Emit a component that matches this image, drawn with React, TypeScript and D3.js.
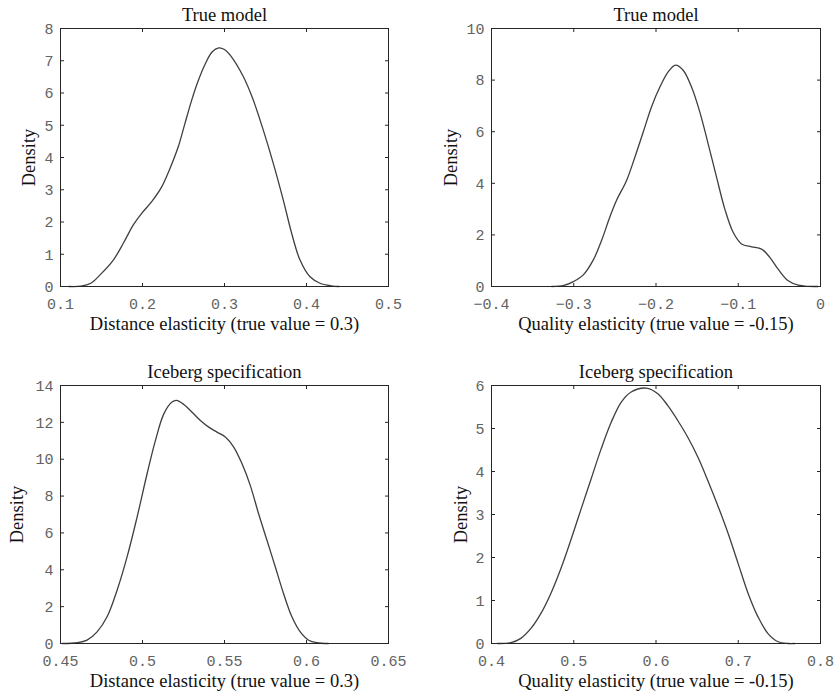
import React from "react";
import * as d3 from "d3";

// ---- data ----
const x1 = [0.11, 0.125, 0.137, 0.1482, 0.1644, 0.1766, 0.1888, 0.199, 0.2112, 0.2234, 0.2335, 0.2437, 0.2518, 0.26, 0.2675, 0.2765, 0.2848, 0.2929, 0.3, 0.3067, 0.3229, 0.3351, 0.3473, 0.3595, 0.3717, 0.3819, 0.3921, 0.4043, 0.4165, 0.43, 0.44];
const y1 = [0, 0.01, 0.1, 0.36, 0.82, 1.34, 1.91, 2.27, 2.63, 3.09, 3.66, 4.34, 5.06, 5.78, 6.35, 6.9, 7.27, 7.4, 7.35, 7.18, 6.51, 5.78, 4.85, 3.82, 2.68, 1.65, 0.82, 0.3, 0.1, 0.02, 0];

const x2 = [-0.327, -0.312, -0.3005, -0.2884, -0.2762, -0.266, -0.2559, -0.2478, -0.2359, -0.2257, -0.2156, -0.2055, -0.1953, -0.1852, -0.1763, -0.167, -0.1568, -0.1467, -0.1366, -0.1264, -0.1163, -0.1062, -0.096, -0.0839, -0.0717, -0.0616, -0.0515, -0.0393, -0.027, -0.015, -0.003];
const y2 = [0, 0.04, 0.19, 0.45, 1.03, 1.8, 2.71, 3.35, 4.1, 5.01, 5.98, 6.96, 7.73, 8.32, 8.58, 8.38, 7.73, 6.76, 5.53, 4.24, 3.0, 2.1, 1.65, 1.54, 1.45, 1.13, 0.67, 0.22, 0.05, 0.005, 0];

const x3 = [0.451, 0.4603, 0.4662, 0.4723, 0.4784, 0.4845, 0.4906, 0.4967, 0.5028, 0.5079, 0.513, 0.518, 0.5207, 0.5252, 0.5302, 0.5353, 0.5404, 0.5454, 0.5505, 0.5556, 0.5607, 0.5657, 0.5708, 0.5759, 0.581, 0.586, 0.5911, 0.5962, 0.6013, 0.6063, 0.6135];
const y3 = [0, 0.04, 0.18, 0.63, 1.45, 2.89, 4.7, 6.86, 9.21, 11.02, 12.46, 13.1, 13.19, 12.97, 12.55, 12.1, 11.74, 11.47, 11.2, 10.66, 9.75, 8.58, 7.04, 5.6, 4.15, 2.71, 1.45, 0.63, 0.18, 0.04, 0];

const x4 = [0.407, 0.4236, 0.4357, 0.4479, 0.4601, 0.4723, 0.4845, 0.4967, 0.5088, 0.521, 0.5332, 0.5454, 0.5576, 0.5698, 0.588, 0.6022, 0.6144, 0.6266, 0.6388, 0.651, 0.6632, 0.6753, 0.6875, 0.6997, 0.7119, 0.724, 0.7362, 0.7484, 0.7606, 0.769];
const y4 = [0, 0.02, 0.12, 0.35, 0.7, 1.17, 1.75, 2.42, 3.12, 3.82, 4.52, 5.14, 5.61, 5.85, 5.94, 5.81, 5.53, 5.18, 4.79, 4.33, 3.78, 3.2, 2.57, 1.87, 1.17, 0.62, 0.23, 0.04, 0, 0];

const xTicks1 = [0.1, 0.2, 0.3, 0.4, 0.5];
const xLabels1 = ["0.1", "0.2", "0.3", "0.4", "0.5"];
const yTicks1 = [0, 1, 2, 3, 4, 5, 6, 7, 8];

const xTicks2 = [-0.4, -0.3, -0.2, -0.1, 0];
const xLabels2 = ["\u22120.4", "\u22120.3", "\u22120.2", "\u22120.1", "0"];
const yTicks2 = [0, 2, 4, 6, 8, 10];

const xTicks3 = [0.45, 0.5, 0.55, 0.6, 0.65];
const xLabels3 = ["0.45", "0.5", "0.55", "0.6", "0.65"];
const yTicks3 = [0, 2, 4, 6, 8, 10, 12, 14];

const xTicks4 = [0.4, 0.5, 0.6, 0.7, 0.8];
const xLabels4 = ["0.4", "0.5", "0.6", "0.7", "0.8"];
const yTicks4 = [0, 1, 2, 3, 4, 5, 6];

const titles = ["True model", "True model", "Iceberg specification", "Iceberg specification"];
const xTitles = [
  "Distance elasticity (true value = 0.3)",
  "Quality elasticity (true value = -0.15)",
  "Distance elasticity (true value = 0.3)",
  "Quality elasticity (true value = -0.15)",
];

const SERIF = "'Liberation Serif', 'Times New Roman', serif";
const MONO = "'Liberation Mono', 'Courier New', monospace";

type PanelProps = {
  box: { l: number; r: number; t: number; b: number };
  xs: number[];
  ys: number[];
  xTicks: number[];
  xLabels: string[];
  yTicks: number[];
  title: string;
  xTitle: string;
  yLabelX: number;
};

function Panel({ box, xs, ys, xTicks, xLabels, yTicks, title, xTitle, yLabelX }: PanelProps) {
  const x = d3.scaleLinear().domain([xTicks[0], xTicks[xTicks.length - 1]]).range([box.l, box.r]);
  const y = d3.scaleLinear().domain([yTicks[0], yTicks[yTicks.length - 1]]).range([box.b, box.t]);
  const pts: [number, number][] = xs.map((v, i) => [v, ys[i]]);
  const line = d3
    .line<[number, number]>()
    .x((d) => x(d[0]))
    .y((d) => y(d[1]))
    .curve(d3.curveCatmullRom.alpha(0.5));
  const tl = 3.5;
  const cx = (box.l + box.r) / 2;
  const cy = (box.t + box.b) / 2;
  return (
    <g>
      <path d={line(pts) || ""} fill="none" stroke="#3f3f3f" strokeWidth={1.3} />
      {xTicks.map((t, i) => (
        <g key={"x" + i}>
          <line x1={x(t)} x2={x(t)} y1={box.b} y2={box.b - tl} stroke="#262626" strokeWidth={1} />
          <line x1={x(t)} x2={x(t)} y1={box.t} y2={box.t + tl} stroke="#262626" strokeWidth={1} />
          <text x={x(t)} y={box.b + 22} textAnchor="middle" fontFamily={MONO} fontSize={15} fill="#626262">
            {xLabels[i]}
          </text>
        </g>
      ))}
      {yTicks.map((t, i) => (
        <g key={"y" + i}>
          <line x1={box.l} x2={box.l + tl} y1={y(t)} y2={y(t)} stroke="#262626" strokeWidth={1} />
          <line x1={box.r} x2={box.r - tl} y1={y(t)} y2={y(t)} stroke="#262626" strokeWidth={1} />
          <text x={box.l - 7} y={y(t)} dy="0.35em" textAnchor="end" fontFamily={MONO} fontSize={15} fill="#626262">
            {String(t)}
          </text>
        </g>
      ))}
      <rect x={box.l} y={box.t} width={box.r - box.l} height={box.b - box.t} fill="none" stroke="#262626" strokeWidth={1} />
      <text x={cx} y={box.t - 8} textAnchor="middle" fontFamily={SERIF} fontSize={18.5} fill="#111">
        {title}
      </text>
      <text x={cx} y={box.b + 43} textAnchor="middle" fontFamily={SERIF} fontSize={18.5} fill="#111">
        {xTitle}
      </text>
      <text
        transform={`translate(${yLabelX},${cy}) rotate(-90)`}
        textAnchor="middle"
        fontFamily={SERIF}
        fontSize={18.5}
        fill="#111"
      >
        Density
      </text>
    </g>
  );
}

export default function App() {
  const top = { t: 28.5, b: 286.5 };
  const bot = { t: 385.5, b: 643.5 };
  const left = { l: 60.5, r: 388.5 };
  const right = { l: 491.5, r: 820.5 };
  return (
    <svg
      width={837}
      height={696}
      style={{ position: "absolute", left: 0, top: 0, background: "#fff" }}
    >
      <rect width={837} height={696} fill="#fff" />
      <Panel box={{ ...left, ...top }} xs={x1} ys={y1} xTicks={xTicks1} xLabels={xLabels1} yTicks={yTicks1} title={titles[0]} xTitle={xTitles[0]} yLabelX={35} />
      <Panel box={{ ...right, ...top }} xs={x2} ys={y2} xTicks={xTicks2} xLabels={xLabels2} yTicks={yTicks2} title={titles[1]} xTitle={xTitles[1]} yLabelX={457} />
      <Panel box={{ ...left, ...bot }} xs={x3} ys={y3} xTicks={xTicks3} xLabels={xLabels3} yTicks={yTicks3} title={titles[2]} xTitle={xTitles[2]} yLabelX={23} />
      <Panel box={{ ...right, ...bot }} xs={x4} ys={y4} xTicks={xTicks4} xLabels={xLabels4} yTicks={yTicks4} title={titles[3]} xTitle={xTitles[3]} yLabelX={467} />
    </svg>
  );
}
